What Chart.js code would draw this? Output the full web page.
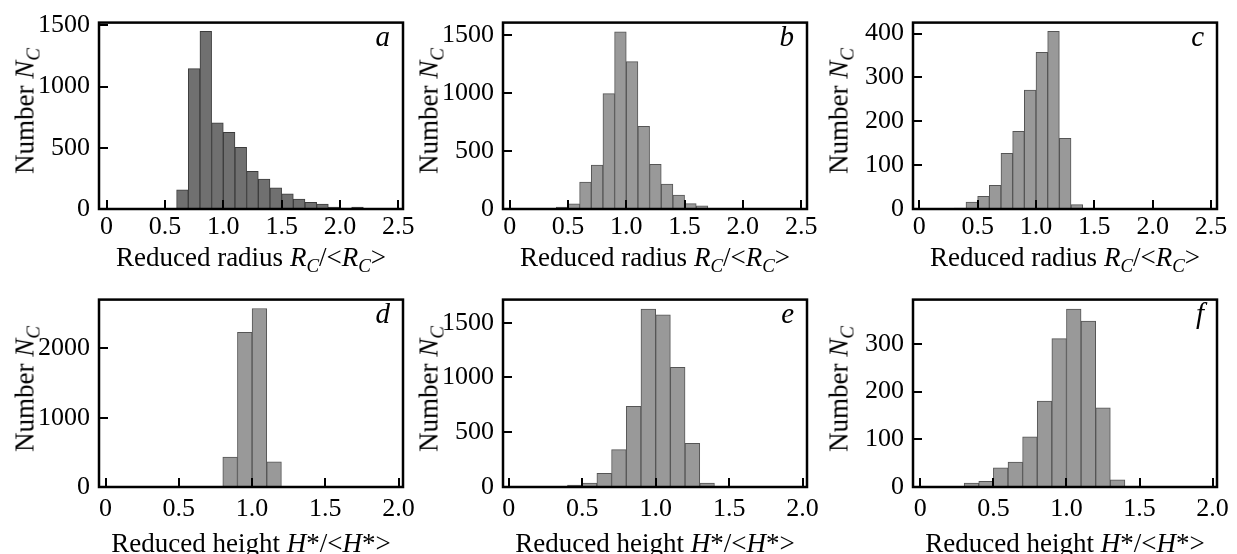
<!DOCTYPE html>
<html>
<head>
<meta charset="utf-8">
<title>Cluster size distributions</title>
<script src="https://cdn.jsdelivr.net/npm/chart.js@4.4.1/dist/chart.umd.min.js"></script>
<style>
    body {
        margin: 0;
        width: 1237px;
        height: 554px;
        background: #fff;
        position: relative;
        overflow: hidden;
        font-family: 'Liberation Serif', 'Times New Roman', serif;
        color: #000;
    }
    canvas { position: absolute; }
    .label {
        position: absolute;
        white-space: nowrap;
        line-height: 1;
        font-size: 27px;
    }
    .ytitle { transform: translate(-50%, -50%) rotate(-90deg); }
    .xtitle { transform: translateX(-50%); }
    .letter { transform: translateX(-100%); font-style: italic; font-size: 29px; }
    sub { font-size: 70%; vertical-align: -0.3em; line-height: 0; }
</style>
</head>
<body>
<script>
// histogram bins: left edge of each 0.1-wide bin and the counts
const binWidth = 0.1;

const binsA = [0.6, 0.7, 0.8, 0.9, 1.0, 1.1, 1.2, 1.3, 1.4, 1.5, 1.6, 1.7, 1.8, 1.9, 2.0, 2.1];
const countsA = [157, 1147, 1451, 704, 626, 503, 307, 245, 173, 124, 82, 54, 41, 15, 8, 15];

const binsB = [0.4, 0.5, 0.6, 0.7, 0.8, 0.9, 1.0, 1.1, 1.2, 1.3, 1.4, 1.5, 1.6, 1.7, 1.8];
const countsB = [16, 44, 232, 380, 997, 1530, 1273, 713, 385, 216, 120, 46, 27, 2, 6];

const binsC = [0.3, 0.4, 0.5, 0.6, 0.7, 0.8, 0.9, 1.0, 1.1, 1.2, 1.3];
const countsC = [2, 16, 29, 54, 127, 177, 271, 357, 405, 161, 10];

const binsD = [0.7, 0.8, 0.9, 1.0, 1.1];
const countsD = [5, 431, 2234, 2578, 362];

const binsE = [0.4, 0.5, 0.6, 0.7, 0.8, 0.9, 1.0, 1.1, 1.2, 1.3];
const countsE = [17, 35, 124, 341, 737, 1624, 1572, 1092, 399, 35];

const binsF = [0.3, 0.4, 0.5, 0.6, 0.7, 0.8, 0.9, 1.0, 1.1, 1.2, 1.3];
const countsF = [8, 12, 40, 52, 105, 180, 311, 373, 348, 166, 15];

// tick values and labels
const radiusTicks = [0, 0.5, 1.0, 1.5, 2.0, 2.5];
const radiusTickLabels = ['0', '0.5', '1.0', '1.5', '2.0', '2.5'];
const heightTicks = [0, 0.5, 1.0, 1.5, 2.0];
const heightTickLabels = ['0', '0.5', '1.0', '1.5', '2.0'];
const yTicksA = [0, 500, 1000, 1500];
const yTicksB = [0, 500, 1000, 1500];
const yTicksC = [0, 100, 200, 300, 400];
const yTicksD = [0, 1000, 2000];
const yTicksE = [0, 500, 1000, 1500];
const yTicksF = [0, 100, 200, 300];

const radiusTitle = 'Reduced radius <i>R<sub>C</sub></i>/&lt;<i>R<sub>C</sub></i>&gt;';
const heightTitle = 'Reduced height <i>H</i>*/&lt;<i>H</i>*&gt;';
const countTitle = 'Number <i>N<sub>C</sub></i>';

const panels = [
    { letter: 'a', bins: binsA, counts: countsA, xTicks: radiusTicks, xLabels: radiusTickLabels, yTicks: yTicksA,
      xMin: -0.065, xMax: 2.54, yMax: 1523, fill: '#707070', edge: '#3c3c3c', title: radiusTitle,
      box: { left: 99, right: 403, top: 13, bottom: 209 }, row: 0 },
    { letter: 'b', bins: binsB, counts: countsB, xTicks: radiusTicks, xLabels: radiusTickLabels, yTicks: yTicksB,
      xMin: -0.057, xMax: 2.55, yMax: 1610, fill: '#999999', edge: '#555555', title: radiusTitle,
      box: { left: 503, right: 807, top: 13, bottom: 209 }, row: 0 },
    { letter: 'c', bins: binsC, counts: countsC, xTicks: radiusTicks, xLabels: radiusTickLabels, yTicks: yTicksC,
      xMin: -0.054, xMax: 2.551, yMax: 425, fill: '#999999', edge: '#555555', title: radiusTitle,
      box: { left: 913, right: 1217, top: 13, bottom: 209 }, row: 0 },
    { letter: 'd', bins: binsD, counts: countsD, xTicks: heightTicks, xLabels: heightTickLabels, yTicks: yTicksD,
      xMin: -0.045, xMax: 2.03, yMax: 2706, fill: '#999999', edge: '#555555', title: heightTitle,
      box: { left: 99, right: 403, top: 290, bottom: 487 }, row: 1 },
    { letter: 'e', bins: binsE, counts: countsE, xTicks: heightTicks, xLabels: heightTickLabels, yTicks: yTicksE,
      xMin: -0.039, xMax: 2.03, yMax: 1711, fill: '#999999', edge: '#555555', title: heightTitle,
      box: { left: 503, right: 807, top: 290, bottom: 487 }, row: 1 },
    { letter: 'f', bins: binsF, counts: countsF, xTicks: heightTicks, xLabels: heightTickLabels, yTicks: yTicksF,
      xMin: -0.05, xMax: 2.03, yMax: 393, fill: '#999999', edge: '#555555', title: heightTitle,
      box: { left: 913, right: 1217, top: 290, bottom: 487 }, row: 1 }
];

const rowLayout = [
    { labelPad: 3, titleBaseline: 58 },
    { labelPad: 7, titleBaseline: 66 }
];

const AXIS_W = 80;
const PAD_TOP = 15;
const PAD_RIGHT = 22;
const XAXIS_H = 45;

Chart.defaults.color = '#000';
Chart.defaults.font.family = "'Liberation Serif', 'Times New Roman', serif";

// box around the plot area plus ticks pointing inwards
const frameAndTicks = {
    id: 'frameAndTicks',
    afterDraw(chart) {
        const { ctx, chartArea: a, scales: { x, y } } = chart;
        ctx.save();
        ctx.strokeStyle = '#000';
        ctx.lineWidth = 2;
        ctx.beginPath();
        x.ticks.forEach(t => {
            const px = Math.round(x.getPixelForValue(t.value));
            ctx.moveTo(px, a.bottom);
            ctx.lineTo(px, a.bottom - 9);
        });
        y.ticks.forEach(t => {
            const py = Math.round(y.getPixelForValue(t.value));
            ctx.moveTo(a.left, py);
            ctx.lineTo(a.left + 9, py);
        });
        ctx.stroke();
        ctx.lineWidth = 2.5;
        ctx.strokeRect(a.left, a.top, a.right - a.left, a.bottom - a.top);
        ctx.restore();
    }
};

function addLabel(html, cls, left, top) {
    const div = document.createElement('div');
    div.className = 'label ' + cls;
    div.innerHTML = html;
    div.style.left = left + 'px';
    div.style.top = top + 'px';
    document.body.appendChild(div);
}

function drawPanel(p) {
    const b = p.box;
    const row = rowLayout[p.row];
    const canvas = document.createElement('canvas');
    canvas.width = (b.right - b.left) + AXIS_W + PAD_RIGHT;
    canvas.height = (b.bottom - b.top) + PAD_TOP + XAXIS_H;
    canvas.style.left = (b.left - AXIS_W) + 'px';
    canvas.style.top = (b.top - PAD_TOP) + 'px';
    document.body.appendChild(canvas);

    const points = p.bins.map((edge, i) => ({ x: edge + binWidth / 2, y: p.counts[i] }));

    new Chart(canvas.getContext('2d'), {
        type: 'bar',
        data: {
            datasets: [{
                data: points,
                backgroundColor: p.fill,
                borderColor: p.edge,
                borderWidth: 1,
                barPercentage: 1,
                categoryPercentage: 1
            }]
        },
        options: {
            responsive: false,
            animation: false,
            layout: { padding: { top: PAD_TOP, right: PAD_RIGHT, left: 0, bottom: 0 } },
            plugins: { legend: { display: false }, tooltip: { enabled: false } },
            scales: {
                x: {
                    type: 'linear',
                    offset: false,
                    min: p.xMin,
                    max: p.xMax,
                    grid: { display: false, drawTicks: false },
                    border: { display: false },
                    afterBuildTicks: scale => { scale.ticks = p.xTicks.map(v => ({ value: v })); },
                    afterFit: scale => { scale.height = XAXIS_H; },
                    ticks: {
                        autoSkip: false,
                        maxRotation: 0,
                        padding: row.labelPad,
                        font: { size: 26 },
                        callback: (v, i) => p.xLabels[i]
                    }
                },
                y: {
                    min: 0,
                    max: p.yMax,
                    grid: { display: false, drawTicks: false },
                    border: { display: false },
                    afterBuildTicks: scale => { scale.ticks = p.yTicks.map(v => ({ value: v })); },
                    afterFit: scale => { scale.width = AXIS_W; },
                    ticks: {
                        autoSkip: false,
                        padding: 9,
                        font: { size: 26 },
                        callback: (v, i) => String(p.yTicks[i])
                    }
                }
            }
        },
        plugins: [frameAndTicks]
    });

    addLabel(countTitle, 'ytitle', b.left - 74, (b.top + b.bottom) / 2);
    addLabel(p.title, 'xtitle', (b.left + b.right) / 2, b.bottom + row.titleBaseline - 23);
    addLabel(p.letter, 'letter', b.right - 13, b.top + 33 - 24);
}

panels.forEach(drawPanel);
</script>
</body>
</html>
